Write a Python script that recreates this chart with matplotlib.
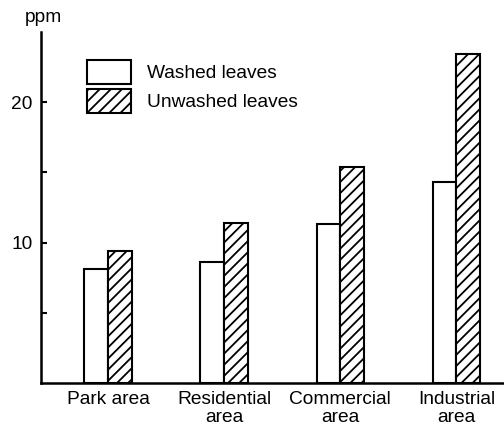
import matplotlib
matplotlib.use("Agg")
import matplotlib.pyplot as plt
import numpy as np

plt.rcParams['font.family'] = ['Liberation Sans', 'DejaVu Sans']
plt.rcParams['hatch.linewidth'] = 1.3

categories = ["Park area", "Residential\narea", "Commercial\narea", "Industrial\narea"]
washed = [8.1, 8.6, 11.3, 14.3]
unwashed = [9.4, 11.4, 15.4, 23.4]
series_labels = ["Washed leaves", "Unwashed leaves"]

FS = 13.8

fig = plt.figure(figsize=(5.04, 4.26), dpi=100)
ax = fig.add_axes([41/504, 43/426, 463/504, 351/426])

x = np.arange(len(categories))
w = 0.205
ax.bar(x - w/2, washed, w, facecolor='white', edgecolor='black', linewidth=1.5,
       label=series_labels[0])
ax.bar(x + w/2, unwashed, w, facecolor='white', edgecolor='black', linewidth=1.5,
       hatch='///', label=series_labels[1])

ax.set_xlim(-0.578, 3.41)
ax.set_ylim(0, 25)
ax.set_xticks(x)
ax.set_xticklabels(categories, fontsize=FS, linespacing=1.05)
ax.tick_params(axis='x', length=0, pad=6)
ax.set_yticks([5, 10, 15, 20])
ax.set_yticklabels(["", "10", "", "20"], fontsize=FS)
ax.tick_params(axis='y', direction='in', length=4, width=1.5, pad=6)

for s in ['top', 'right']:
    ax.spines[s].set_visible(False)
for s in ['left', 'bottom']:
    ax.spines[s].set_linewidth(1.8)

ax.text(43/504, 1 - 17/426, "ppm", transform=fig.transFigure, fontsize=FS,
        ha='center', va='center')

ax.legend(loc='upper left', bbox_to_anchor=(72/504, 1 - 45/426),
          bbox_transform=fig.transFigure, frameon=False, fontsize=FS,
          handlelength=2.3, handleheight=1.5, labelspacing=0.3,
          handletextpad=0.8, borderpad=0.3)

fig.savefig("out.png", dpi=100)
